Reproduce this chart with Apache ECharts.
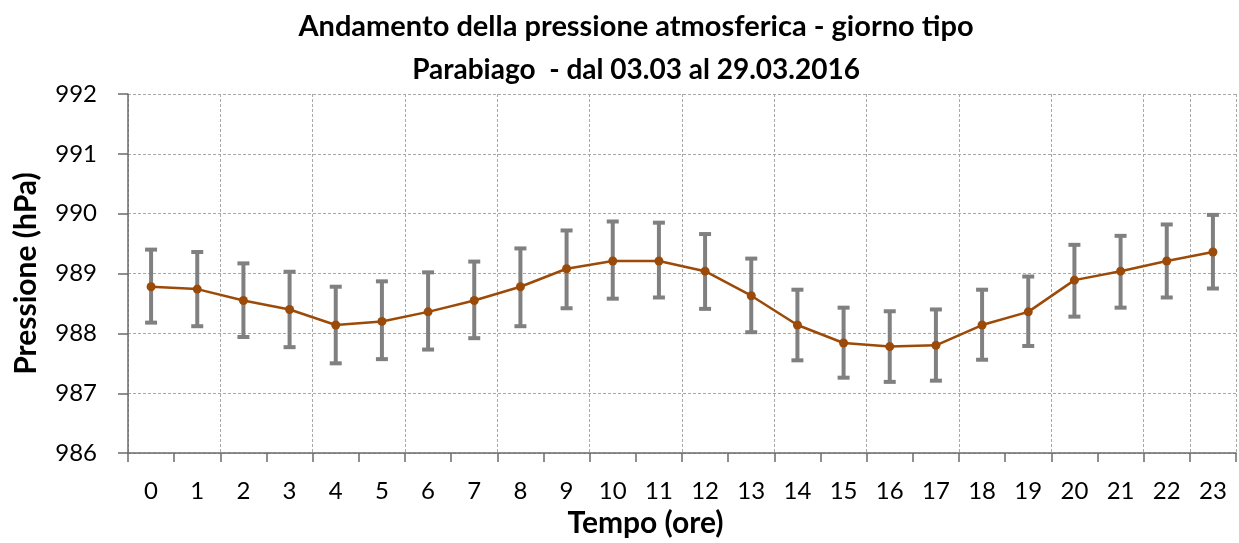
<!DOCTYPE html>
<html>
<head>
<meta charset="utf-8">
<script src="https://cdn.jsdelivr.net/npm/echarts@6/dist/echarts.min.js"></script>
<style>
html,body{margin:0;padding:0;background:#fff;}
#chart{width:1239px;height:543px;}
</style>
</head>
<body>
<div id="chart"></div>
<script>
const titleLine1 = 'Andamento della pressione atmosferica - giorno tipo';
const titleLine2 = 'Parabiago  - dal 03.03 al 29.03.2016';
const xAxisTitle = 'Tempo (ore)';
const yAxisTitle = 'Pressione (hPa)';

const hours = ['0','1','2','3','4','5','6','7','8','9','10','11','12','13','14','15','16','17','18','19','20','21','22','23'];
const pressure = [988.78, 988.74, 988.55, 988.40, 988.14, 988.20, 988.36, 988.55, 988.78, 989.08, 989.21, 989.21,
                  989.04, 988.63, 988.14, 987.84, 987.78, 987.80, 988.14, 988.36, 988.89, 989.04, 989.21, 989.36];
const pressureLow = [988.18, 988.12, 987.94, 987.77, 987.50, 987.57, 987.73, 987.92, 988.12, 988.42, 988.58, 988.60,
                     988.41, 988.02, 987.55, 987.26, 987.19, 987.21, 987.56, 987.79, 988.28, 988.43, 988.60, 988.75];
const pressureHigh = [989.40, 989.36, 989.17, 989.03, 988.78, 988.87, 989.02, 989.20, 989.42, 989.72, 989.87, 989.85,
                      989.66, 989.25, 988.73, 988.43, 988.37, 988.40, 988.73, 988.95, 989.48, 989.63, 989.82, 989.98];
const yTicks = { min: 986, max: 992, interval: 1 };

const errData = hours.map((h, i) => [i, pressureLow[i], pressureHigh[i]]);

const chart = echarts.init(document.getElementById('chart'), null, { renderer: 'canvas' });
const FONT = 'Lato';
const axisColor = '#6b6b6b';
const gridColor = '#a8a8a8';

chart.setOption({
  animation: false,
  backgroundColor: '#ffffff',
  title: [
    { text: titleLine1, left: 631, top: 7, textAlign: 'center',
      textStyle: { fontFamily: FONT, fontWeight: 'bold', fontSize: 29, color: '#000' } },
    { text: titleLine2, left: 631, top: 51, textAlign: 'center',
      textStyle: { fontFamily: FONT, fontWeight: 'bold', fontSize: 28, color: '#000' } }
  ],
  grid: { left: 128, right: 3, top: 94, bottom: 89, containLabel: false },
  xAxis: {
    type: 'category',
    data: hours,
    boundaryGap: true,
    name: xAxisTitle,
    nameLocation: 'middle',
    nameGap: 49,
    nameTextStyle: { fontFamily: FONT, fontWeight: 'bold', fontSize: 30, color: '#000', padding: [0, 73, 0, 0] },
    axisLine: { show: true, lineStyle: { color: axisColor, width: 1.5 } },
    axisTick: { show: true, interval: 0, length: 9, lineStyle: { color: axisColor, width: 1.5 } },
    axisLabel: { interval: 0, margin: 26, fontFamily: FONT, fontSize: 24, color: '#000' },
    splitLine: { show: true, interval: 1, lineStyle: { color: gridColor, width: 1, type: [3, 2] } }
  },
  yAxis: {
    type: 'value',
    min: yTicks.min, max: yTicks.max, interval: yTicks.interval,
    name: yAxisTitle,
    nameLocation: 'middle',
    nameRotate: 90,
    nameGap: 87,
    nameTextStyle: { fontFamily: FONT, fontWeight: 'bold', fontSize: 30, color: '#000' },
    axisLine: { show: true, lineStyle: { color: axisColor, width: 1.5 } },
    axisTick: { show: true, length: 10, lineStyle: { color: axisColor, width: 1.5 } },
    axisLabel: { margin: 31, fontFamily: FONT, fontSize: 24, color: '#000' },
    splitLine: { show: true, lineStyle: { color: gridColor, width: 1, type: [3, 2] } }
  },
  series: [
    {
      type: 'custom',
      name: 'err',
      z: 2,
      data: errData,
      encode: { x: 0, y: [1, 2] },
      renderItem: function (params, api) {
        const idx = api.value(0);
        const lo = api.coord([idx, api.value(1)]);
        const hi = api.coord([idx, api.value(2)]);
        const cap = 6;
        const style = { stroke: '#808080', lineWidth: 4, fill: null };
        return {
          type: 'group',
          children: [
            { type: 'line', shape: { x1: hi[0], y1: hi[1], x2: lo[0], y2: lo[1] }, style: style },
            { type: 'line', shape: { x1: hi[0] - cap, y1: hi[1], x2: hi[0] + cap, y2: hi[1] }, style: style },
            { type: 'line', shape: { x1: lo[0] - cap, y1: lo[1], x2: lo[0] + cap, y2: lo[1] }, style: style }
          ]
        };
      }
    },
    {
      type: 'line',
      name: 'Pressione',
      z: 3,
      data: pressure,
      symbol: 'circle',
      symbolSize: 9,
      itemStyle: { color: '#9c4a08' },
      lineStyle: { color: '#9c4a08', width: 2.5 }
    }
  ]
});
</script>
</body>
</html>
